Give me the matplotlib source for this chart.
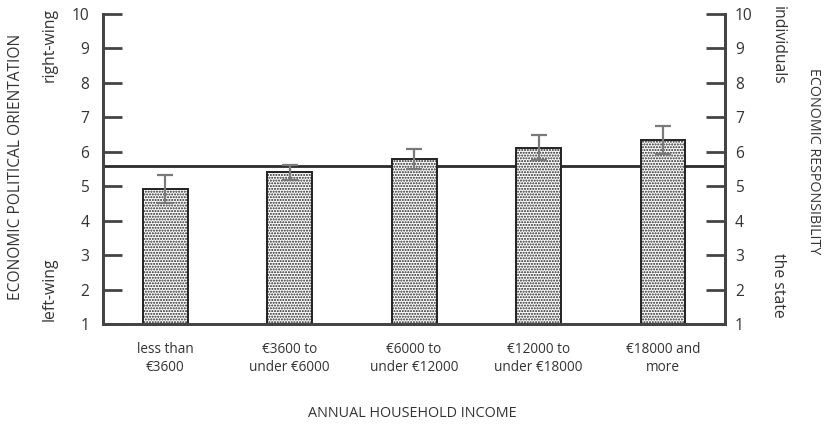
import matplotlib
matplotlib.use("Agg")
import matplotlib.pyplot as plt
import numpy as np

# data
categories = ["less than\n€3600", "€3600 to\nunder €6000", "€6000 to\nunder €12000",
              "€12000 to\nunder €18000", "€18000 and\nmore"]
means = [4.92, 5.40, 5.80, 6.12, 6.35]
errors = [0.42, 0.22, 0.29, 0.37, 0.40]
overall_mean = 5.6
yticks = list(range(1, 11))

plt.rcParams["font.family"] = ["Open Sans", "DejaVu Sans"]
plt.rcParams["hatch.color"] = "#8a8a8a"
plt.rcParams["hatch.linewidth"] = 1.0

AX_COL = "#444444"
TXT_COL = "#333333"

fig = plt.figure(figsize=(8.27, 4.25), dpi=100)
ax = fig.add_axes([0.1245, 0.2376, 0.7525, 0.7294])

x = np.arange(len(categories))
ax.axhline(overall_mean, color="#2a2a2a", lw=2.0, zorder=1)
ax.bar(x, means, width=0.36, bottom=0, color="white", edgecolor="#222222",
       linewidth=1.4, hatch="......", zorder=2)
ax.errorbar(x, means, yerr=errors, fmt="none", ecolor="#7a7a7a",
            elinewidth=1.6, capsize=6, capthick=1.6, zorder=3)

ax.set_xlim(-0.5, len(categories) - 0.5)
ax.set_ylim(1, 10)
ax.set_yticks(yticks)
ax.set_xticks(x)
ax.set_xticklabels(categories, fontsize=9.8, color=TXT_COL, linespacing=1.25)
ax.tick_params(axis="x", length=0, pad=13)
ax.tick_params(axis="y", direction="in", length=14, width=2, color=AX_COL,
               labelsize=11.2, labelcolor=TXT_COL, pad=10)

# right axis: same scale, its own tick labels
ax2 = ax.twinx()
ax2.set_ylim(1, 10)
ax2.set_yticks(yticks)
ax2.tick_params(axis="y", direction="in", length=14, width=2, color=AX_COL,
                labelsize=11.2, labelcolor=TXT_COL, pad=7)

for a in (ax, ax2):
    a.spines["top"].set_visible(False)
    for side in ["left", "right", "bottom"]:
        a.spines[side].set_color(AX_COL)
        a.spines[side].set_linewidth(2)

txt = dict(color=TXT_COL, ha="center", va="center")
fig.text(0.019, 0.607, "ECONOMIC POLITICAL ORIENTATION", rotation=90, fontsize=11.2, **txt)
fig.text(0.0605, 0.894, "right-wing", rotation=90, fontsize=11.3, **txt)
fig.text(0.0605, 0.32, "left-wing", rotation=90, fontsize=11.3, **txt)
fig.text(0.941, 0.894, "individuals", rotation=270, fontsize=11.3, **txt)
fig.text(0.941, 0.329, "the state", rotation=270, fontsize=11.3, **txt)
fig.text(0.984, 0.62, "ECONOMIC RESPONSIBILITY", rotation=270, fontsize=10.3, **txt)
fig.text(0.498, 0.028, "ANNUAL HOUSEHOLD INCOME", fontsize=10.4, **txt)

fig.savefig("out.png", dpi=100, facecolor="white")
